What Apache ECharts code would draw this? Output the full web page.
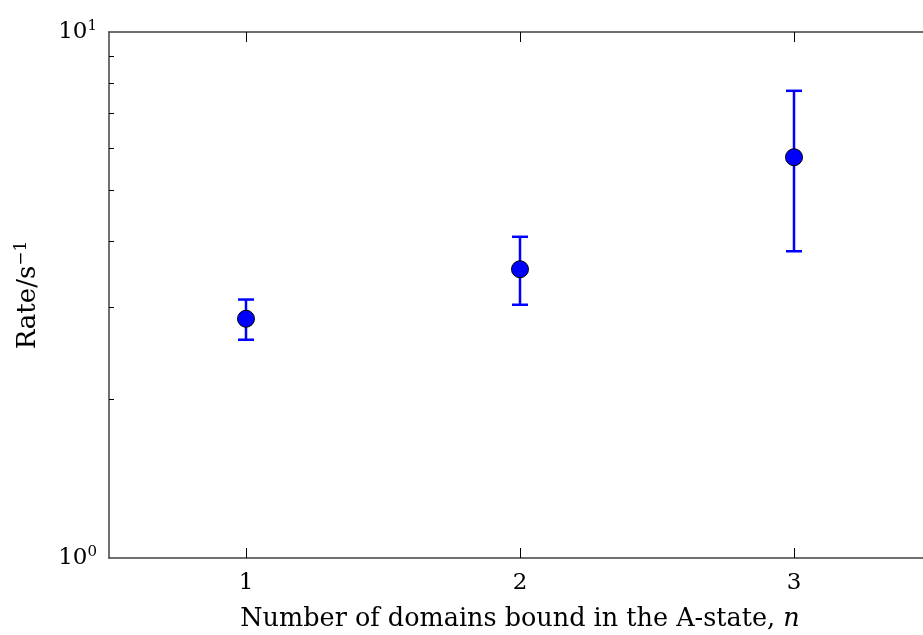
<!DOCTYPE html>
<html>
<head>
<meta charset="utf-8">
<style>html,body{margin:0;padding:0;background:#fff;}#chart{width:923px;height:635px;}</style>
<script src="https://cdn.jsdelivr.net/npm/echarts@6/dist/echarts.min.js"></script>
</head>
<body>
<div id="chart"></div>
<script>
var nValues = [1, 2, 3];
var rateValues = [2.85, 3.54, 5.78];
var lowerValues = [2.60, 3.03, 3.83];
var upperValues = [3.10, 4.08, 7.73];
var xTickValues = [1, 2, 3];
var yLabelValues = [1, 10];
var yMinorTickValues = [2, 3, 4, 5, 6, 7, 8, 9];

var FONT = 'DejaVu Serif';
var AXIS_COLOR = '#404040';
var BLUE = '#0000ff';

var chart = echarts.init(document.getElementById('chart'), null, {renderer: 'canvas'});

var pointData = nValues.map(function (n, i) { return [n, rateValues[i]]; });
var errData = nValues.map(function (n, i) { return [n, lowerValues[i], upperValues[i]]; });

var option = {
  animation: false,
  backgroundColor: '#fff',
  grid: {left: 109, top: 32, width: 822, height: 526, containLabel: false, outerBoundsMode: 'none'},
  xAxis: [{
    type: 'value', min: 0.5, max: 3.5, position: 'bottom',
    name: 'Number of domains bound in the A-state, {i|n}',
    nameLocation: 'middle', nameGap: 48,
    nameTextStyle: {
      fontFamily: FONT, fontSize: 25.5, color: '#000',
      rich: {i: {fontFamily: FONT, fontStyle: 'italic', fontSize: 25.5, color: '#000'}}
    },
    splitLine: {show: false},
    axisLine: {show: true, lineStyle: {color: AXIS_COLOR, width: 1.5}},
    axisTick: {show: true, inside: true, length: 10, customValues: xTickValues, lineStyle: {color: '#000', width: 1}},
    axisLabel: {show: true, customValues: xTickValues, margin: 14, fontFamily: FONT, fontSize: 23, color: '#000'}
  }, {
    type: 'value', min: 0.5, max: 3.5, position: 'top',
    splitLine: {show: false},
    axisLine: {show: true, lineStyle: {color: AXIS_COLOR, width: 1.5}},
    axisTick: {show: true, inside: true, length: 10, customValues: xTickValues, lineStyle: {color: '#000', width: 1}},
    axisLabel: {show: false}
  }],
  yAxis: [{
    type: 'log', logBase: 10, min: 1, max: 10, position: 'left',
    name: 'Rate/s{s|\u22121}',
    nameLocation: 'middle', nameGap: 66,
    nameTextStyle: {
      fontFamily: FONT, fontSize: 26, color: '#000',
      rich: {s: {fontFamily: FONT, fontSize: 17, color: '#000', padding: [0, 0, 13, 0]}}
    },
    splitLine: {show: false},
    axisLine: {show: true, lineStyle: {color: AXIS_COLOR, width: 1.5}},
    axisTick: {show: true, inside: true, length: 5, customValues: yMinorTickValues, lineStyle: {color: '#000', width: 1}},
    axisLabel: {
      show: true, customValues: yLabelValues, margin: 12,
      formatter: function (v) {
        return '{b|10}{s|' + Math.round(Math.log10(v)) + '}';
      },
      rich: {
        b: {fontFamily: FONT, fontSize: 23, color: '#000'},
        s: {fontFamily: FONT, fontSize: 15, color: '#000', padding: [0, 0, 12, 0]}
      }
    }
  }],
  series: [{
    type: 'custom',
    xAxisIndex: 0, yAxisIndex: 0,
    data: errData,
    encode: {x: 0, y: [1, 2]},
    z: 2,
    renderItem: function (params, api) {
      var x = api.value(0);
      var lo = api.coord([x, api.value(1)]);
      var hi = api.coord([x, api.value(2)]);
      var hw = 8;
      var style = {stroke: BLUE, lineWidth: 2.5};
      return {
        type: 'group',
        children: [
          {type: 'line', shape: {x1: lo[0], y1: lo[1], x2: hi[0], y2: hi[1]}, style: style},
          {type: 'line', shape: {x1: lo[0] - hw, y1: lo[1], x2: lo[0] + hw, y2: lo[1]}, style: style},
          {type: 'line', shape: {x1: hi[0] - hw, y1: hi[1], x2: hi[0] + hw, y2: hi[1]}, style: style}
        ]
      };
    }
  }, {
    type: 'scatter',
    xAxisIndex: 0, yAxisIndex: 0,
    data: pointData,
    symbol: 'circle', symbolSize: 17,
    z: 3,
    itemStyle: {color: BLUE, borderColor: '#000', borderWidth: 1, opacity: 1}
  }]
};
chart.setOption(option);
</script>
</body>
</html>
